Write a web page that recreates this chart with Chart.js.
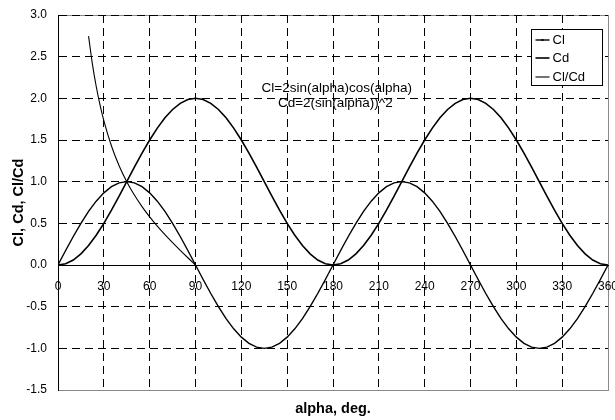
<!DOCTYPE html>
<html>
<head>
<meta charset="utf-8">
<script src="https://cdn.jsdelivr.net/npm/chart.js@4/dist/chart.umd.min.js"></script>
<style>
  html, body { margin: 0; padding: 0; background: #fff; }
  #wrap { width: 615px; height: 420px; }
</style>
</head>
<body>
<div id="wrap"><canvas id="c" width="615" height="420"></canvas></div>
<script>
// ---- data ----
const alphaDeg = [0,5,10,15,20,25,30,35,40,45,50,55,60,65,70,75,80,85,90,
  95,100,105,110,115,120,125,130,135,140,145,150,155,160,165,170,175,180,
  185,190,195,200,205,210,215,220,225,230,235,240,245,250,255,260,265,270,
  275,280,285,290,295,300,305,310,315,320,325,330,335,340,345,350,355,360];
const clValues = [0,0.174,0.342,0.5,0.643,0.766,0.866,0.94,0.985,1,0.985,0.94,0.866,0.766,0.643,0.5,0.342,0.174,0,
  -0.174,-0.342,-0.5,-0.643,-0.766,-0.866,-0.94,-0.985,-1,-0.985,-0.94,-0.866,-0.766,-0.643,-0.5,-0.342,-0.174,0,
  0.174,0.342,0.5,0.643,0.766,0.866,0.94,0.985,1,0.985,0.94,0.866,0.766,0.643,0.5,0.342,0.174,0,
  -0.174,-0.342,-0.5,-0.643,-0.766,-0.866,-0.94,-0.985,-1,-0.985,-0.94,-0.866,-0.766,-0.643,-0.5,-0.342,-0.174,0];
const cdValues = [0,0.015,0.06,0.134,0.234,0.357,0.5,0.658,0.826,1,1.174,1.342,1.5,1.643,1.766,1.866,1.94,1.985,2,
  1.985,1.94,1.866,1.766,1.643,1.5,1.342,1.174,1,0.826,0.658,0.5,0.357,0.234,0.134,0.06,0.015,0,
  0.015,0.06,0.134,0.234,0.357,0.5,0.658,0.826,1,1.174,1.342,1.5,1.643,1.766,1.866,1.94,1.985,2,
  1.985,1.94,1.866,1.766,1.643,1.5,1.342,1.174,1,0.826,0.658,0.5,0.357,0.234,0.134,0.06,0.015,0];
const ratioAlpha = [20,22.5,25,27.5,30,35,40,45,50,55,60,65,70,75,80,85,90];
const ratioValues = [2.747,2.414,2.145,1.921,1.732,1.428,1.192,1,0.839,0.7,0.577,0.466,0.364,0.268,0.176,0.087,0];
const seriesNames = ['Cl', 'Cd', 'Cl/Cd'];
const xTicks = [0,30,60,90,120,150,180,210,240,270,300,330,360];
const yTicks = [-1.5,-1.0,-0.5,0.0,0.5,1.0,1.5,2.0,2.5,3.0];
const xTitle = 'alpha, deg.';
const yTitle = 'Cl, Cd, Cl/Cd';
const noteLines = ['Cl=2sin(alpha)cos(alpha)', 'Cd=2(sin(alpha))^2'];

const FONT = "'Liberation Sans', Arial, Helvetica, sans-serif";
const pts = (xs, ys) => xs.map((x, i) => ({ x: x, y: ys[i] }));

const framePlugin = {
  id: 'frame',
  beforeDraw(chart) {
    const { ctx, chartArea: a } = chart;
    ctx.save();
    ctx.strokeStyle = '#8a8a8a';
    ctx.lineWidth = 1;
    ctx.strokeRect(Math.round(a.left) + 0.5, Math.round(a.top) + 0.5,
      Math.round(a.right - a.left), Math.round(a.bottom - a.top));
    ctx.restore();
  }
};

const notePlugin = {
  id: 'notes',
  afterDatasetsDraw(chart) {
    const { ctx, scales } = chart;
    const cx = [scales.x.getPixelForValue(182.5), scales.x.getPixelForValue(181.5)];
    const cy = [scales.y.getPixelForValue(2.12), scales.y.getPixelForValue(1.94)];
    ctx.save();
    ctx.fillStyle = '#000';
    ctx.font = '13.5px ' + FONT;
    ctx.textAlign = 'center';
    ctx.textBaseline = 'middle';
    noteLines.forEach((t, i) => ctx.fillText(t, cx[i], cy[i]));
    ctx.restore();
  }
};

const legendPlugin = {
  id: 'boxLegend',
  afterDraw(chart) {
    const { ctx, chartArea: a } = chart;
    const bx = Math.round(a.right) - 77 + 0.5, by = Math.round(a.top) + 14 + 0.5;
    const bw = 71, bh = 56;
    ctx.save();
    ctx.fillStyle = '#fff';
    ctx.fillRect(bx, by, bw, bh);
    ctx.strokeStyle = '#000';
    ctx.lineWidth = 1;
    ctx.strokeRect(bx, by, bw, bh);
    const rows = [10, 28, 47];
    ctx.font = '13px ' + FONT;
    ctx.textBaseline = 'middle';
    ctx.textAlign = 'left';
    chart.data.datasets.forEach((ds, i) => {
      const y = Math.round(by + rows[i]);
      ctx.strokeStyle = ds.borderColor;
      ctx.lineWidth = ds.borderWidth;
      ctx.beginPath();
      ctx.moveTo(bx + 4, y);
      ctx.lineTo(bx + 18, y);
      ctx.stroke();
      if (i === 0) {
        ctx.fillStyle = '#000';
        ctx.fillRect(bx + 10, y - 1, 2, 2);
      }
      ctx.fillStyle = '#000';
      ctx.fillText(ds.label, bx + 21, y + 0.5);
    });
    ctx.restore();
  }
};

new Chart(document.getElementById('c'), {
  type: 'line',
  data: {
    datasets: [
      { label: seriesNames[0], data: pts(alphaDeg, clValues), borderColor: '#000', borderWidth: 1.4,
        pointRadius: 0, fill: false, tension: 0 },
      { label: seriesNames[1], data: pts(alphaDeg, cdValues), borderColor: '#000', borderWidth: 1.6,
        pointRadius: 0, fill: false, tension: 0 },
      { label: seriesNames[2], data: pts(ratioAlpha, ratioValues), borderColor: '#000', borderWidth: 1.1,
        pointRadius: 0, fill: false, cubicInterpolationMode: 'monotone' }
    ]
  },
  options: {
    responsive: false,
    animation: false,
    devicePixelRatio: 1,
    layout: { padding: { left: 0, top: 15, right: 7, bottom: 0 } },
    plugins: {
      legend: { display: false },
      tooltip: { enabled: false },
      title: {
        display: true, text: xTitle, position: 'bottom', fullSize: false,
        color: '#000', font: { family: FONT, size: 14.5, weight: 'bold' },
        padding: { top: 10, bottom: 2.6 }
      }
    },
    scales: {
      x: {
        type: 'linear', min: 0, max: 360,
        position: { y: 0 },
        afterFit(s) { s.paddingLeft = 0; s.paddingRight = 0; s.paddingTop = 0; s.paddingBottom = 0; },
        afterBuildTicks(s) { s.ticks = xTicks.map(v => ({ value: v })); },
        ticks: {
          autoSkip: false, maxRotation: 0, padding: 14, color: '#000',
          font: { family: FONT, size: 12 },
          callback: (v) => String(v)
        },
        grid: {
          drawTicks: false,
          color: (c) => (c.tick && (c.tick.value === 0 || c.tick.value === 360)) ? 'rgba(0,0,0,0)' : '#000',
          lineWidth: 1
        },
        border: { display: true, color: '#000', width: 1, dash: [8, 5] }
      },
      y: {
        type: 'linear', min: -1.5, max: 3.0,
        position: 'left',
        afterFit(s) { s.width = 58; s.paddingTop = 0; s.paddingBottom = 0; },
        afterBuildTicks(s) { s.ticks = yTicks.map(v => ({ value: v })); },
        ticks: {
          padding: 11, color: '#000',
          font: { family: FONT, size: 12 },
          callback: (v) => Number(v).toFixed(1)
        },
        grid: {
          drawTicks: false,
          color: (c) => (c.tick && (c.tick.value === -1.5 || c.tick.value === 0)) ? 'rgba(0,0,0,0)' : '#000',
          lineWidth: 1
        },
        border: { display: true, color: '#000', width: 1, dash: [8, 5] },
        title: {
          display: true, text: yTitle, color: '#000',
          font: { family: FONT, size: 14.5, weight: 'bold' },
          padding: { top: 10, bottom: 0 }
        }
      }
    }
  },
  plugins: [framePlugin, notePlugin, legendPlugin]
});
</script>
</body>
</html>
